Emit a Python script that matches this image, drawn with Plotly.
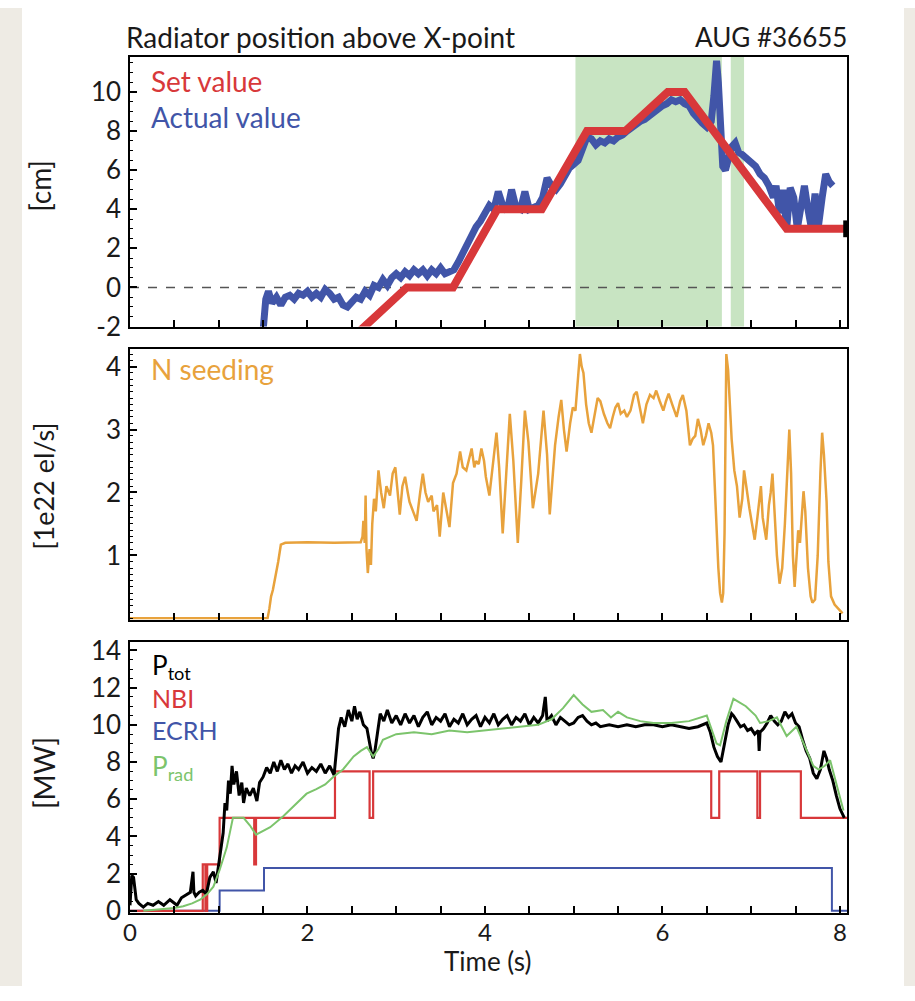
import plotly.graph_objects as go

# ---------------- data ----------------
# Panel 1: radiator position (cm)
set_t = [2.50, 3.12, 3.64, 4.14, 4.64, 5.15, 5.58, 6.06, 6.25, 7.40, 8.08]
set_v = [-2.6, 0.0, 0.0, 4.0, 4.0, 8.0, 8.0, 10.0, 10.0, 3.0, 3.0]

act_t = [1.50, 1.53, 1.56, 1.60, 1.65, 1.70, 1.75, 1.80, 1.85, 1.90, 1.95, 2.00, 2.05, 2.10,
         2.15, 2.20, 2.25, 2.30, 2.35, 2.40, 2.45, 2.50, 2.55, 2.60, 2.65, 2.70, 2.75, 2.80,
         2.85, 2.90, 2.95, 3.00, 3.05, 3.10, 3.15, 3.20, 3.25, 3.30, 3.35, 3.40, 3.45, 3.50,
         3.55, 3.60, 3.65, 3.70, 3.75, 3.80, 3.85, 3.90, 3.95, 4.00, 4.05, 4.10, 4.15, 4.20,
         4.25, 4.30, 4.35, 4.40, 4.45, 4.50, 4.55, 4.60, 4.65, 4.70, 4.75, 4.80, 4.85, 4.90,
         4.95, 5.00, 5.05, 5.10, 5.15, 5.20, 5.25, 5.30, 5.35, 5.40, 5.45, 5.50, 5.55, 5.60,
         5.65, 5.70, 5.75, 5.80, 5.85, 5.90, 5.95, 6.00, 6.05, 6.10, 6.15, 6.20, 6.25, 6.30,
         6.35, 6.40, 6.45, 6.50, 6.55, 6.58, 6.61, 6.63, 6.65, 6.68, 6.71, 6.74, 6.78, 6.82,
         6.86, 6.90, 6.95, 7.00, 7.05, 7.10, 7.15, 7.20, 7.25, 7.28, 7.32, 7.36, 7.40, 7.44,
         7.48, 7.52, 7.56, 7.60, 7.64, 7.68, 7.72, 7.76, 7.80, 7.84, 7.88, 7.92]
act_v = [-2.2, -0.6, -0.2, -0.8, -0.5, -0.9, -0.5, -0.4, -0.6, -0.3, -0.4, -0.2, -0.5, -0.3,
         -0.5, -0.1, -0.3, -0.6, -0.5, -0.9, -1.0, -0.8, -0.5, -0.6, -0.2, -0.4, 0.1, 0.0,
         0.4, 0.1, 0.5, 0.7, 0.5, 0.8, 0.6, 0.9, 0.7, 0.9, 0.6, 0.9, 0.7, 1.0,
         0.7, 0.8, 0.9, 1.3, 1.8, 2.2, 2.6, 3.1, 3.4, 3.8, 4.2, 4.0, 4.9, 4.2,
         3.9, 5.0, 4.1, 4.0, 4.9, 4.0, 4.1, 4.2, 4.6, 5.6, 5.2, 5.0, 5.3, 5.8,
         6.1, 6.3, 6.5, 7.1, 7.7, 7.6, 7.3, 7.5, 7.4, 7.6, 7.5, 7.7, 7.8, 8.0,
         8.2, 8.3, 8.5, 8.6, 8.8, 9.0, 9.1, 9.3, 9.4, 9.6, 9.5, 9.6, 9.4, 9.3,
         8.9, 8.6, 8.4, 8.2, 8.5, 9.8, 11.6, 10.5, 8.0, 6.2, 6.0, 6.5, 7.2, 7.4,
         6.9, 6.8, 6.6, 6.4, 6.2, 5.8, 5.6, 5.2, 4.6, 5.2, 3.8, 5.0, 3.0, 5.1,
         4.6, 3.0, 4.4, 5.2, 4.0, 3.0, 4.8, 3.2, 4.6, 5.8, 5.4, 5.2]

shade_t0 = [5.02, 6.77]
shade_t1 = [6.67, 6.92]

# Panel 2: N seeding (1e22 el/s)
ns_t = [0.00, 1.55, 1.57, 1.59, 1.61, 1.63, 1.65, 1.67, 1.70, 1.75, 2.00, 2.30, 2.60, 2.62,
        2.63, 2.645, 2.655, 2.665, 2.68, 2.70, 2.715, 2.73, 2.75, 2.77, 2.80, 2.83, 2.86,
        2.89, 2.93, 2.96, 2.99, 3.02, 3.04, 3.07, 3.10, 3.13, 3.15, 3.19, 3.23, 3.27, 3.30,
        3.33, 3.36, 3.40, 3.42, 3.46, 3.49, 3.53, 3.56, 3.60, 3.64, 3.68, 3.72, 3.75, 3.79,
        3.82, 3.85, 3.88, 3.90, 3.93, 3.96, 3.99, 4.01, 4.05, 4.09, 4.13, 4.16, 4.20, 4.24,
        4.28, 4.32, 4.37, 4.41, 4.45, 4.49, 4.54, 4.60, 4.66, 4.70, 4.73, 4.76, 4.79, 4.83,
        4.86, 4.89, 4.92, 4.96, 4.99, 5.02, 5.05, 5.07, 5.09, 5.11, 5.14, 5.17, 5.20, 5.24,
        5.27, 5.30, 5.34, 5.38, 5.41, 5.44, 5.47, 5.50, 5.53, 5.57, 5.60, 5.64, 5.68, 5.71,
        5.75, 5.78, 5.82, 5.86, 5.90, 5.93, 5.97, 6.01, 6.04, 6.07, 6.11, 6.16, 6.20, 6.23,
        6.27, 6.31, 6.34, 6.37, 6.40, 6.43, 6.46, 6.49, 6.52, 6.55, 6.57, 6.59, 6.61, 6.63,
        6.65, 6.67, 6.685, 6.70, 6.71, 6.72, 6.74, 6.76, 6.78, 6.81, 6.84, 6.87, 6.90, 6.92,
        6.95, 6.98, 7.01, 7.04, 7.07, 7.09, 7.11, 7.13, 7.15, 7.17, 7.20, 7.22, 7.24, 7.26,
        7.29, 7.32, 7.35, 7.38, 7.41, 7.43, 7.45, 7.47, 7.49, 7.51, 7.53, 7.55, 7.57, 7.59,
        7.61, 7.64, 7.67, 7.69, 7.72, 7.75, 7.78, 7.80, 7.82, 7.85, 7.87, 7.90, 7.94, 7.98,
        8.03]
ns_v = [0.0, 0.0, 0.15, 0.35, 0.45, 0.6, 0.7, 0.9, 1.17, 1.2, 1.21, 1.2, 1.21, 1.3,
        1.55, 1.2, 1.95, 1.1, 0.72, 1.1, 0.85, 1.5, 1.9, 1.7, 2.35, 2.0, 1.75,
        2.1, 1.95, 2.3, 2.4, 2.0, 1.65, 2.1, 2.25, 2.0, 1.85, 1.7, 1.55, 2.0, 2.3,
        2.0, 1.85, 1.95, 1.7, 1.8, 1.3, 2.0, 1.75, 1.45, 2.15, 2.3, 2.65, 2.4, 2.35,
        2.55, 2.7, 2.4, 2.5, 2.45, 2.7, 2.5, 2.25, 1.95, 2.5, 2.95, 2.4, 1.35, 2.3,
        3.25, 2.5, 1.2, 2.2, 3.3, 2.8, 1.75, 2.3, 3.3, 2.6, 1.65, 2.2, 2.75, 3.2,
        3.47, 3.0, 2.65, 3.1, 3.35, 3.3, 3.9, 4.2, 4.0, 3.9, 3.4, 3.1, 2.95, 3.3,
        3.5, 3.45, 3.25, 3.1, 3.02, 3.2, 3.35, 3.42, 3.25, 3.3, 3.2, 3.3, 3.55, 3.6,
        3.3, 3.1, 3.4, 3.55, 3.5, 3.62, 3.45, 3.3, 3.45, 3.57, 3.4, 3.2, 3.45, 3.55,
        3.3, 2.75, 2.85, 2.9, 3.17, 3.0, 2.75, 2.9, 3.1, 2.95, 2.75, 2.0, 1.35, 0.8,
        0.4, 0.25, 0.4, 1.35, 2.8, 4.2, 3.95, 3.4, 2.85, 2.35, 2.1, 1.6, 1.9, 2.35,
        2.0, 1.75, 1.5, 1.25, 1.6, 1.9, 2.1, 1.6, 1.4, 1.25, 1.8, 2.0, 2.3, 1.8,
        1.0, 0.55, 0.8, 1.5, 2.4, 3.0, 2.3, 1.0, 0.5, 1.0, 1.4, 1.2, 1.6, 2.02,
        1.7, 0.8, 0.35, 0.25, 0.3, 1.0, 2.3, 2.95, 2.6, 1.85, 0.9, 0.35, 0.22, 0.15,
        0.08]

# Panel 3: heating and radiated power (MW)
ptot_t = [0.00, 0.02, 0.04, 0.07, 0.10, 0.15, 0.20, 0.26, 0.32, 0.38, 0.45, 0.50, 0.53, 0.58,
          0.64, 0.68, 0.71, 0.72, 0.74, 0.78, 0.82, 0.86, 0.90, 0.94, 0.97, 1.00, 1.03, 1.05,
          1.07, 1.09, 1.11, 1.13, 1.15, 1.17, 1.20, 1.23, 1.26, 1.28, 1.31, 1.35, 1.39, 1.43,
          1.46, 1.50, 1.54, 1.58, 1.62, 1.66, 1.70, 1.74, 1.78, 1.82, 1.86, 1.90, 1.95, 2.00,
          2.05, 2.10, 2.15, 2.20, 2.25, 2.30, 2.33, 2.35, 2.38, 2.42, 2.46, 2.50, 2.53, 2.56,
          2.59, 2.63, 2.67, 2.70, 2.72, 2.74, 2.76, 2.79, 2.82, 2.86, 2.90, 2.95, 3.00, 3.05,
          3.10, 3.15, 3.20, 3.25, 3.30, 3.35, 3.40, 3.45, 3.50, 3.55, 3.60, 3.65, 3.70, 3.75,
          3.80, 3.85, 3.90, 3.95, 4.00, 4.05, 4.10, 4.15, 4.20, 4.25, 4.30, 4.35, 4.40, 4.45,
          4.50, 4.55, 4.60, 4.65, 4.68, 4.70, 4.75, 4.80, 4.85, 4.90, 4.95, 5.00, 5.05, 5.10,
          5.15, 5.20, 5.25, 5.30, 5.40, 5.50, 5.60, 5.70, 5.80, 5.90, 6.00, 6.10, 6.20, 6.30,
          6.40, 6.50, 6.54, 6.58, 6.62, 6.66, 6.70, 6.74, 6.78, 6.80, 6.84, 6.88, 6.92, 6.96,
          7.00, 7.04, 7.08, 7.09, 7.10, 7.14, 7.18, 7.22, 7.26, 7.30, 7.34, 7.38, 7.42, 7.46,
          7.50, 7.54, 7.58, 7.62, 7.66, 7.70, 7.74, 7.78, 7.82, 7.85, 7.88, 7.92, 7.96, 8.00,
          8.05]
ptot_v = [0.3, 1.9, 1.8, 0.6, 0.4, 0.2, 0.4, 0.3, 0.5, 0.3, 0.6, 0.4, 0.3, 0.7,
          0.9, 1.0, 2.1, 1.0, 0.8, 1.0, 1.1, 0.9, 1.8, 2.1, 1.5, 2.5, 3.5, 4.2,
          5.8, 5.4, 7.0, 6.3, 7.8, 6.8, 7.5, 6.2, 6.9, 5.8, 6.6, 6.2, 6.6, 5.9,
          6.9, 7.2, 7.7, 7.4, 8.0, 7.5, 8.1, 7.6, 7.9, 7.4, 7.8, 7.6, 8.0, 7.4,
          7.7, 7.5, 7.9, 7.4, 7.8, 7.3, 8.8, 9.8, 10.4, 9.9, 10.8, 10.2, 11.0, 10.3,
          10.7, 10.0, 9.8, 8.9, 8.5, 8.2, 8.6, 9.6, 10.6, 10.2, 10.8, 10.1, 10.5, 10.0,
          10.6, 10.1, 10.5, 9.9, 10.4, 10.7, 10.0, 10.4, 10.2, 10.6, 9.9, 10.3, 10.1, 10.6,
          10.0, 10.3, 10.5, 9.9, 10.4, 10.1, 10.6, 10.0, 10.3, 10.5, 10.0, 10.4, 10.2, 10.6,
          10.0, 10.4, 10.1, 10.5, 11.5, 10.2, 10.5, 10.0, 10.4, 10.2, 10.0, 10.1, 10.4, 10.5,
          10.2, 10.0, 10.1, 9.9, 10.0, 9.9, 10.0, 9.9, 10.0, 10.0, 9.9, 10.0, 9.9, 9.8,
          9.9, 10.1, 9.6, 8.8, 8.3, 8.0, 9.0, 10.0, 10.6, 10.5, 10.2, 9.9, 10.0, 9.7,
          9.8, 9.5, 9.7, 8.6, 9.6, 9.8, 10.1, 10.5, 10.2, 10.0, 10.2, 10.7, 10.4, 10.6,
          10.1, 9.9, 9.2, 8.6, 8.2, 7.4, 7.1, 7.6, 8.6, 8.2, 7.6, 7.0, 6.2, 5.5,
          5.0]

prad_t = [0.15, 0.30, 0.50, 0.60, 0.70, 0.79, 0.87, 0.94, 1.01, 1.09, 1.16, 1.28, 1.35, 1.42,
          1.50, 1.58, 1.73, 1.88, 1.99, 2.10, 2.20, 2.29, 2.40, 2.52, 2.60, 2.67, 2.74, 2.80,
          2.85, 3.00, 3.20, 3.40, 3.60, 3.80, 4.00, 4.20, 4.40, 4.60, 4.75, 4.88, 5.00, 5.10,
          5.20, 5.33, 5.42, 5.50, 5.60, 5.75, 5.90, 6.10, 6.30, 6.50, 6.61, 6.65, 6.72, 6.80,
          6.94, 7.05, 7.10, 7.20, 7.29, 7.40, 7.51, 7.60, 7.70, 7.76, 7.83, 7.89, 7.95, 8.04]
prad_v = [0.0, 0.05, 0.15, 0.25, 0.4, 0.6, 0.9, 1.3, 2.2, 3.4, 5.0, 5.0, 4.6, 4.1,
          4.3, 4.5, 5.1, 5.8, 6.3, 6.55, 6.8, 7.2, 7.6, 8.3, 8.6, 8.8, 8.3, 8.7,
          9.2, 9.5, 9.6, 9.5, 9.7, 9.6, 9.7, 9.8, 9.9, 10.0, 10.3, 10.9, 11.6, 11.1,
          10.7, 10.8, 10.4, 10.7, 10.4, 10.2, 10.1, 10.1, 10.2, 10.5, 9.0, 8.9, 10.2, 11.4,
          11.0, 10.5, 10.1, 10.2, 10.4, 9.4, 9.9, 8.9, 7.8, 7.6, 7.8, 8.1, 7.0, 5.4]

nbi_t = [0.0, 0.82, 0.85, 0.87, 1.01, 1.40, 1.42, 2.31, 2.70, 2.74, 6.55, 6.64, 7.07, 7.10, 7.56, 8.08]
nbi_v = [0.0, 2.5, 0.0, 2.5, 5.0, 2.5, 5.0, 7.5, 5.0, 7.5, 5.0, 7.5, 5.0, 7.5, 5.0, 5.0]

ecrh_t = [0.0, 1.01, 1.51, 7.91, 8.08]
ecrh_v = [0.0, 1.1, 2.3, 0.0, 0.0]

x_ticks = [0, 2, 4, 6, 8]
y1_ticks = [-2, 0, 2, 4, 6, 8, 10]
y2_ticks = [1, 2, 3, 4]
y3_ticks = [0, 2, 4, 6, 8, 10, 12, 14]

# ---------------- style ----------------
FONT = "Lato"
RED = "#D8383A"
BLUE = "#4155A8"
ORANGE = "#E8A23C"
GREEN = "#7CC46C"
SHADE = "#C8E4C2"
TXT = "#1a1a1a"
W, H = 915, 1001
L, R = 130, 68

fig = go.Figure()

fig.add_trace(go.Scatter(x=act_t, y=act_v, mode="lines", line=dict(color=BLUE, width=7),
                         xaxis="x", yaxis="y", showlegend=False))
fig.add_trace(go.Scatter(x=set_t, y=set_v, mode="lines", line=dict(color=RED, width=8),
                         xaxis="x", yaxis="y", showlegend=False))
fig.add_trace(go.Scatter(x=[set_t[-1] - 0.02], y=[set_v[-1]], mode="markers",
                         marker=dict(symbol="line-ns", size=12, line=dict(color="black", width=4)),
                         xaxis="x", yaxis="y", showlegend=False, cliponaxis=False))

fig.add_trace(go.Scatter(x=ns_t, y=ns_v, mode="lines", line=dict(color=ORANGE, width=2.5),
                         xaxis="x2", yaxis="y2", showlegend=False))

fig.add_trace(go.Scatter(x=ecrh_t, y=ecrh_v, mode="lines", line=dict(color=BLUE, width=2, shape="hv"),
                         xaxis="x3", yaxis="y3", showlegend=False))
fig.add_trace(go.Scatter(x=nbi_t, y=nbi_v, mode="lines", line=dict(color=RED, width=2.2, shape="hv"),
                         xaxis="x3", yaxis="y3", showlegend=False))
fig.add_trace(go.Scatter(x=ptot_t, y=ptot_v, mode="lines", line=dict(color="black", width=3),
                         xaxis="x3", yaxis="y3", showlegend=False))
fig.add_trace(go.Scatter(x=prad_t, y=prad_v, mode="lines", line=dict(color=GREEN, width=2),
                         xaxis="x3", yaxis="y3", showlegend=False))

XR = [0, 8.08]
def xax(domain_anchor, labels):
    return dict(range=XR, domain=[0, 1], anchor=domain_anchor, showline=True, mirror=True,
                linecolor="black", linewidth=1.5, ticks="inside", ticklen=7, tickwidth=1.5,
                tickcolor="black", tickvals=x_ticks, ticktext=[str(v) for v in x_ticks],
                showticklabels=labels, showgrid=False, zeroline=False, ticklabelstandoff=-2,
                tickfont=dict(family=FONT, size=24, color=TXT),
                minor=dict(dtick=0.5, ticks="inside", ticklen=7, tickcolor="black", tickwidth=1.5))

def yax(rng, dom, anchor, ticks, minor_dt):
    return dict(range=rng, domain=dom, anchor=anchor, showline=True, mirror=True,
                linecolor="black", linewidth=1.5, ticks="inside", ticklen=7, tickwidth=1.5,
                tickcolor="black", tickvals=ticks, ticktext=[str(v) for v in ticks],
                showgrid=False, zeroline=False, ticklabelstandoff=2,
                tickfont=dict(family=FONT, size=26, color=TXT),
                minor=dict(dtick=minor_dt, ticks="inside", ticklen=3, tickcolor="black", tickwidth=1))

def pd_(top, bot):
    return [1 - bot / H, 1 - top / H]

fig.update_layout(
    width=W, height=H, margin=dict(l=L, r=R, t=0, b=0),
    paper_bgcolor="white", plot_bgcolor="white",
    xaxis=xax("y", False), xaxis2=xax("y2", False), xaxis3=xax("y3", True),
    yaxis=yax([-2, 11.8], pd_(50, 326), "x", y1_ticks, 0.5),
    yaxis2=yax([-0.02, 4.28], pd_(349, 626), "x2", y2_ticks, 0.1),
    yaxis3=yax([-0.1, 14.45], pd_(649, 926), "x3", y3_ticks, 0.5),
)
fig.update_layout(xaxis=dict(matches="x3"), xaxis2=dict(matches="x3"))

px = lambda p: (p - L) / (W - L - R)
py = lambda p: 1 - p / H

# background: beige sides
fig.add_shape(type="rect", xref="paper", yref="paper", x0=px(0), x1=px(22), y0=0, y1=1,
              fillcolor="#EEEBE4", line_width=0, layer="below")
fig.add_shape(type="rect", xref="paper", yref="paper", x0=px(904), x1=px(915), y0=0, y1=1,
              fillcolor="#EEEBE4", line_width=0, layer="below")

# green shading in panel 1
for a, b in zip(shade_t0, shade_t1):
    fig.add_shape(type="rect", xref="x", yref="y domain", x0=a, x1=b, y0=0, y1=1,
                  fillcolor=SHADE, line_width=0, layer="below")
# dashed zero line
fig.add_shape(type="line", xref="x", yref="y", x0=XR[0], x1=XR[1], y0=0, y1=0,
              line=dict(color="#555555", width=1.5, dash="dash"), layer="below")

def ann(text, x, y, color, size=24, xanchor="left", angle=0):
    fig.add_annotation(text=text, xref="paper", yref="paper", x=x, y=y, xanchor=xanchor,
                       yanchor="middle", showarrow=False, textangle=angle, borderpad=0,
                       font=dict(family=FONT, size=size, color=color))

ann("Radiator position above X-point", px(125), py(30), TXT, size=28)
ann("AUG #36655", px(848), py(30), TXT, size=26, xanchor="right")
ann("Set value", px(150), py(75), RED, size=28)
ann("Actual value", px(150), py(112), BLUE, size=28)
ann("N seeding", px(150), py(370), ORANGE, size=28)
ann("P<sub>tot</sub>", px(151), py(674), "black", size=26)
ann("NBI", px(151), py(706), RED, size=25)
ann("ECRH", px(151), py(739), BLUE, size=25)
ann("P<sub>rad</sub>", px(151), py(777), GREEN, size=26)

ann("[cm]", px(40), py(182), TXT, size=28, xanchor="center", angle=-90)
ann("[1e22 el/s]", px(44), py(490), TXT, size=27, xanchor="center", angle=-90)
ann("[MW]", px(44), py(783), TXT, size=28, xanchor="center", angle=-90)
ann("Time (s)", px(487), py(975), TXT, size=26, xanchor="center")

fig.write_html("out.html")
